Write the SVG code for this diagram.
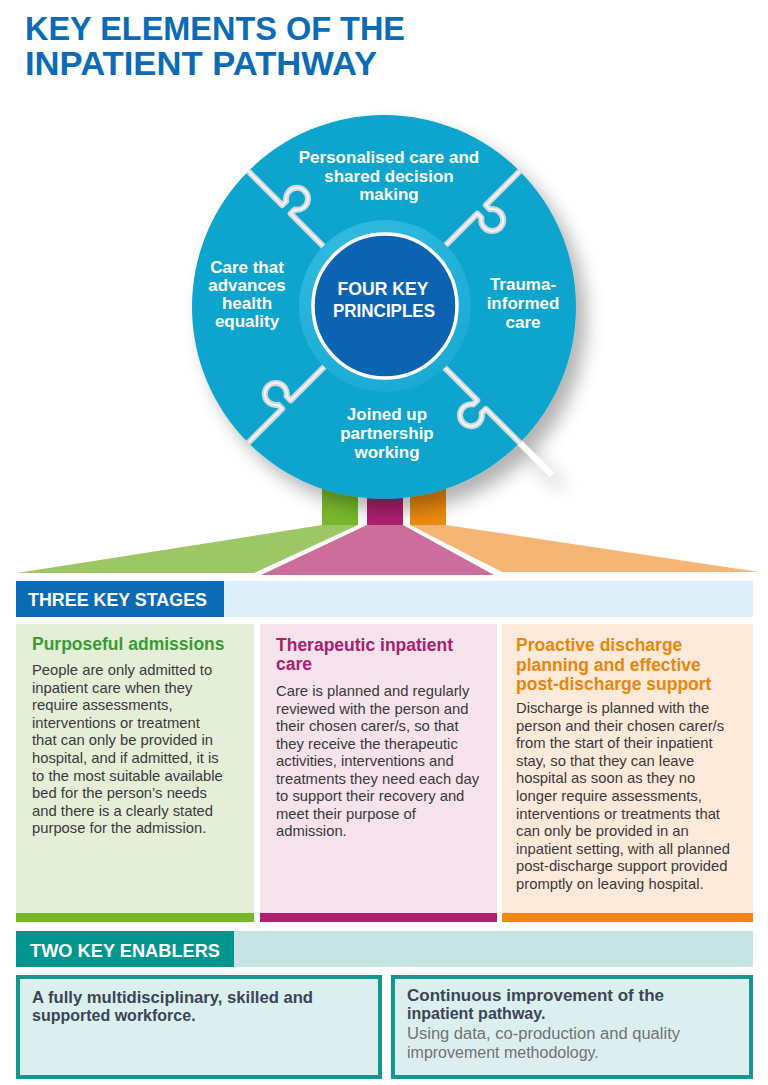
<svg xmlns="http://www.w3.org/2000/svg" xmlns:xlink="http://www.w3.org/1999/xlink" width="768" height="1085" viewBox="0 0 768 1085">
<defs>
<style>
.title{font-family:"Liberation Sans",Arial,sans-serif;font-weight:bold;font-size:33px;fill:#0b6bb6}
.lbl{font-family:"Liberation Sans",Arial,sans-serif;font-weight:bold;font-size:17px;fill:#ffffff;text-anchor:middle}
.ctr{font-family:"Liberation Sans",Arial,sans-serif;font-weight:bold;font-size:19px;fill:#ffffff;text-anchor:middle}
.hdr{font-family:"Liberation Sans",Arial,sans-serif;font-weight:bold;font-size:19px;fill:#ffffff}
.ctitle{font-family:"Liberation Sans",Arial,sans-serif;font-weight:bold;font-size:17.5px}
.body{font-family:"Liberation Sans",Arial,sans-serif;font-size:14.8px;fill:#3a3a3a}
.enb{font-family:"Liberation Sans",Arial,sans-serif;font-weight:bold;font-size:16px;fill:#3b4556}
.enr{font-family:"Liberation Sans",Arial,sans-serif;font-size:16px;fill:#727272}
.seam{fill:none;stroke:#d2d8dc;stroke-width:6;stroke-linejoin:round}
.seamhi{fill:none;stroke:#f2f4f5;stroke-width:2;stroke-linejoin:round}
.seamout{fill:none;stroke:#ffffff;stroke-width:6}
</style>
<filter id="shadow" x="-20%" y="-20%" width="150%" height="150%">
<feGaussianBlur in="SourceAlpha" stdDeviation="9"/>
<feOffset dx="10" dy="12" result="b"/>
<feFlood flood-color="#000000" flood-opacity="0.3"/>
<feComposite in2="b" operator="in"/>
<feMerge><feMergeNode/><feMergeNode in="SourceGraphic"/></feMerge>
</filter>
<radialGradient id="ringGrad" cx="0.4" cy="0.3" r="0.8">
<stop offset="0" stop-color="#3cc0e4"/>
<stop offset="1" stop-color="#14a8d2"/>
</radialGradient>
<path id="seamPath" d="M84,0 L132,0 L132,5.8 A11,11 0 1 0 144,5.8 L144,0 L192,0"/>
</defs>
<rect width="768" height="1085" fill="#ffffff"/>

<g id="title">
<text class="title" x="25" y="40" textLength="380" lengthAdjust="spacingAndGlyphs">KEY ELEMENTS OF THE</text>
<text class="title" x="25" y="75" textLength="352" lengthAdjust="spacingAndGlyphs">INPATIENT PATHWAY</text>
</g>

<g id="connectors">
<rect x="322" y="470" width="36" height="55" fill="#78b72a"/>
<rect x="367" y="470" width="36" height="55" fill="#b11f6f"/>
<rect x="410" y="470" width="36" height="55" fill="#ee8a0e"/>
<polygon points="322,525 358,525 254,573 17,573" fill="#9dc764"/>
<polygon points="367,525 403,525 494,575 261,575" fill="#cc6e9b"/>
<polygon points="410,525 446,525 759,572 502,572" fill="#f5b575"/>
</g>

<g id="principles">
<g filter="url(#shadow)">
<circle cx="384" cy="307" r="192" fill="#0aa4cd"/>
<path d="M520,443 L552,475" class="seamout"/>
</g>
<g transform="translate(384,307) rotate(-135)"><use xlink:href="#seamPath" href="#seamPath" class="seam"/><use xlink:href="#seamPath" href="#seamPath" class="seamhi"/></g>
<g transform="translate(384,307) rotate(-45)"><use xlink:href="#seamPath" href="#seamPath" class="seam"/><use xlink:href="#seamPath" href="#seamPath" class="seamhi"/></g>
<g transform="translate(384,307) rotate(135)"><use xlink:href="#seamPath" href="#seamPath" class="seam"/><use xlink:href="#seamPath" href="#seamPath" class="seamhi"/></g>
<g transform="translate(384,307) rotate(45)"><use xlink:href="#seamPath" href="#seamPath" class="seam"/><use xlink:href="#seamPath" href="#seamPath" class="seamhi"/></g>
<circle cx="385" cy="306" r="86" fill="url(#ringGrad)"/>
<circle cx="385" cy="306" r="72" fill="#0b63b1" stroke="#ffffff" stroke-width="3.5"/>
</g>

<g id="center-label">
<text class="ctr" x="383" y="295" textLength="91" lengthAdjust="spacingAndGlyphs">FOUR KEY</text>
<text class="ctr" x="384" y="317" textLength="102" lengthAdjust="spacingAndGlyphs">PRINCIPLES</text>
</g>

<g id="principle-personalised">
<text class="lbl" x="389" y="163">Personalised care and</text>
<text class="lbl" x="389" y="182">shared decision</text>
<text class="lbl" x="389" y="200">making</text>
</g>
<g id="principle-equality">
<text class="lbl" x="247" y="273">Care that</text>
<text class="lbl" x="247" y="291">advances</text>
<text class="lbl" x="247" y="309">health</text>
<text class="lbl" x="247" y="327">equality</text>
</g>
<g id="principle-trauma">
<text class="lbl" x="523" y="290">Trauma-</text>
<text class="lbl" x="523" y="309">informed</text>
<text class="lbl" x="523" y="328">care</text>
</g>
<g id="principle-joined">
<text class="lbl" x="387" y="420">Joined up</text>
<text class="lbl" x="387" y="439">partnership</text>
<text class="lbl" x="387" y="458">working</text>
</g>

<g id="stages-header">
<rect x="16" y="581" width="208" height="36" fill="#0b6ab4"/>
<rect x="224" y="581" width="529" height="36" fill="#ddeef8"/>
<text class="hdr" x="28" y="606" textLength="179" lengthAdjust="spacingAndGlyphs">THREE KEY STAGES</text>
</g>

<g id="stage-admissions">
<rect x="16" y="624" width="238" height="290" fill="#e5eed7"/>
<rect x="16" y="913" width="238" height="9" fill="#78b72a"/>
<text class="ctitle" x="32" y="650" fill="#3a9b35">Purposeful admissions</text>
<text class="body" x="32" y="675">People are only admitted to</text>
<text class="body" x="32" y="692.6">inpatient care when they</text>
<text class="body" x="32" y="710.2">require assessments,</text>
<text class="body" x="32" y="727.8">interventions or treatment</text>
<text class="body" x="32" y="745.4">that can only be provided in</text>
<text class="body" x="32" y="763">hospital, and if admitted, it is</text>
<text class="body" x="32" y="780.6">to the most suitable available</text>
<text class="body" x="32" y="798.2">bed for the person’s needs</text>
<text class="body" x="32" y="815.8">and there is a clearly stated</text>
<text class="body" x="32" y="833.4">purpose for the admission.</text>
</g>

<g id="stage-therapeutic">
<rect x="260" y="624" width="237" height="290" fill="#f6e3ec"/>
<rect x="260" y="913" width="237" height="9" fill="#b11f6f"/>
<text class="ctitle" x="276" y="651" fill="#a8206e">Therapeutic inpatient</text>
<text class="ctitle" x="276" y="670" fill="#a8206e">care</text>
<text class="body" x="276" y="696">Care is planned and regularly</text>
<text class="body" x="276" y="713.5">reviewed with the person and</text>
<text class="body" x="276" y="731">their chosen carer/s, so that</text>
<text class="body" x="276" y="748.5">they receive the therapeutic</text>
<text class="body" x="276" y="766">activities, interventions and</text>
<text class="body" x="276" y="783.5">treatments they need each day</text>
<text class="body" x="276" y="801">to support their recovery and</text>
<text class="body" x="276" y="818.5">meet their purpose of</text>
<text class="body" x="276" y="836">admission.</text>
</g>

<g id="stage-discharge">
<rect x="502" y="624" width="251" height="290" fill="#fdeadb"/>
<rect x="502" y="913" width="251" height="9" fill="#ee8a0e"/>
<text class="ctitle" x="516" y="651" fill="#e8860c">Proactive discharge</text>
<text class="ctitle" x="516" y="671" fill="#e8860c">planning and effective</text>
<text class="ctitle" x="516" y="690" fill="#e8860c">post-discharge support</text>
<text class="body" x="516" y="713">Discharge is planned with the</text>
<text class="body" x="516" y="730.6">person and their chosen carer/s</text>
<text class="body" x="516" y="748.2">from the start of their inpatient</text>
<text class="body" x="516" y="765.8">stay, so that they can leave</text>
<text class="body" x="516" y="783.4">hospital as soon as they no</text>
<text class="body" x="516" y="801">longer require assessments,</text>
<text class="body" x="516" y="818.6">interventions or treatments that</text>
<text class="body" x="516" y="836.2">can only be provided in an</text>
<text class="body" x="516" y="853.8">inpatient setting, with all planned</text>
<text class="body" x="516" y="871.4">post-discharge support provided</text>
<text class="body" x="516" y="889">promptly on leaving hospital.</text>
</g>

<g id="enablers-header">
<rect x="16" y="931" width="218" height="36" fill="#00958f"/>
<rect x="234" y="931" width="519" height="36" fill="#c6e4e4"/>
<text class="hdr" x="30" y="957" textLength="190" lengthAdjust="spacingAndGlyphs">TWO KEY ENABLERS</text>
</g>

<g id="enabler-workforce">
<rect x="18" y="977" width="362" height="100" fill="#dcefef" stroke="#15978f" stroke-width="4"/>
<text class="enb" x="32" y="1003" textLength="281" lengthAdjust="spacingAndGlyphs">A fully multidisciplinary, skilled and</text>
<text class="enb" x="32" y="1021">supported workforce.</text>
</g>

<g id="enabler-improvement">
<rect x="393" y="977" width="358" height="100" fill="#dcefef" stroke="#15978f" stroke-width="4"/>
<text class="enb" x="407" y="1001" textLength="257" lengthAdjust="spacingAndGlyphs">Continuous improvement of the</text>
<text class="enb" x="407" y="1019">inpatient pathway.</text>
<text class="enr" x="407" y="1039" textLength="273" lengthAdjust="spacingAndGlyphs">Using data, co-production and quality</text>
<text class="enr" x="407" y="1058">improvement methodology.</text>
</g>
</svg>
